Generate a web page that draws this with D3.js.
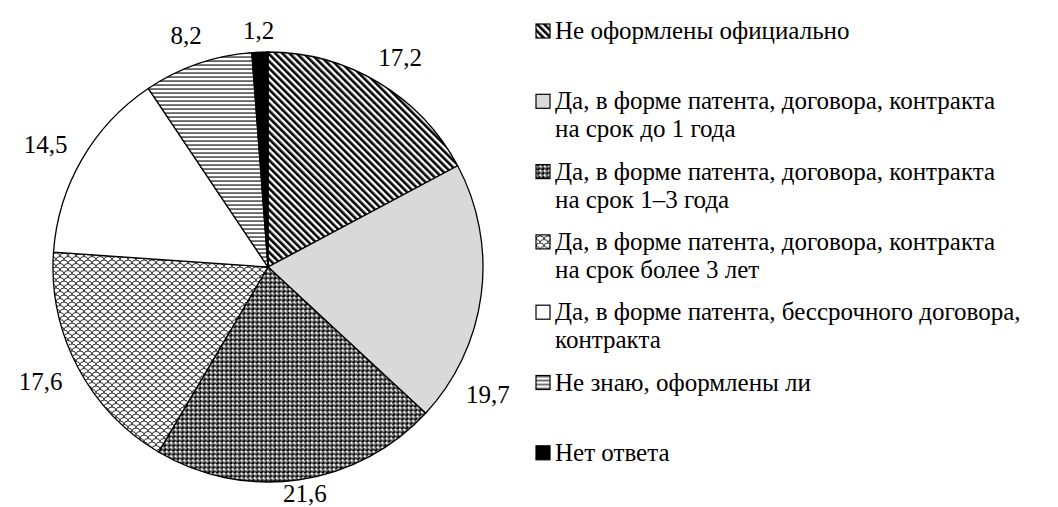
<!DOCTYPE html>
<html>
<head>
<meta charset="utf-8">
<script src="https://cdn.jsdelivr.net/npm/d3@7"></script>
<style>
  body { margin: 0; background: #fff; }
</style>
</head>
<body>
<svg id="chart"></svg>
<script>
const width = 1058
const height = 507

// data
const categories = [
  'Не оформлены официально',
  'Да, в форме патента, договора, контракта на срок до 1 года',
  'Да, в форме патента, договора, контракта на срок 1–3 года',
  'Да, в форме патента, договора, контракта на срок более 3 лет',
  'Да, в форме патента, бессрочного договора, контракта',
  'Не знаю, оформлены ли',
  'Нет ответа'
]
const values = [17.2, 19.7, 21.6, 17.6, 14.5, 8.2, 1.2]
// legend lines as in the picture
const legendLines = [
  ['Не оформлены официально'],
  ['Да, в форме патента, договора, контракта', 'на срок до 1 года'],
  ['Да, в форме патента, договора, контракта', 'на срок 1–3 года'],
  ['Да, в форме патента, договора, контракта', 'на срок более 3 лет'],
  ['Да, в форме патента, бессрочного договора,', 'контракта'],
  ['Не знаю, оформлены ли'],
  ['Нет ответа']
]
const fills = ['url(#p-diag)', '#d9d9d9', 'url(#p-dots)', 'url(#p-scale)', '#fff', 'url(#p-hor)', '#000']

const FONT = 'Liberation Serif, Tinos, DejaVu Serif, serif'
const cx = 268
const cy = 267
const radius = 215

const svg = d3.select('#chart').attr('width', width).attr('height', height)
  .style('font-family', FONT)
const defs = svg.append('defs')

// fit the font so the longest legend line is as wide as in the picture
const probe = svg.append('text').attr('font-size', 20)
  .text('Да, в форме патента, бессрочного договора,')
const fontSize = Math.min(25, 20 * 472 / probe.node().getComputedTextLength())
probe.remove()

// patterns
const diag = defs.append('pattern').attr('id', 'p-diag')
  .attr('patternUnits', 'userSpaceOnUse').attr('width', 5).attr('height', 5)
  .attr('patternTransform', 'rotate(-45)')
diag.append('rect').attr('width', 5).attr('height', 5).attr('fill', '#fff')
diag.append('rect').attr('width', 2.6).attr('height', 5).attr('fill', '#000')

const dots = defs.append('pattern').attr('id', 'p-dots')
  .attr('patternUnits', 'userSpaceOnUse').attr('width', 4.4).attr('height', 4.4)
dots.append('rect').attr('width', 4.4).attr('height', 4.4).attr('fill', '#fff')
dots.append('circle').attr('cx', 2.2).attr('cy', 2.2).attr('r', 2).attr('fill', '#000')
dots.append('circle').attr('cx', 1.6).attr('cy', 1.5).attr('r', 0.6).attr('fill', '#fff')

const scale = defs.append('pattern').attr('id', 'p-scale')
  .attr('patternUnits', 'userSpaceOnUse').attr('width', 8).attr('height', 7)
scale.append('rect').attr('width', 8).attr('height', 7).attr('fill', '#fff')
scale.append('path')
  .attr('d', 'M0,3.5 A4,3.5 0 0 1 8,3.5 M-4,7 A4,3.5 0 0 1 4,7 M4,7 A4,3.5 0 0 1 12,7 M-4,0 A4,3.5 0 0 1 4,0 M4,0 A4,3.5 0 0 1 12,0')
  .attr('fill', 'none').attr('stroke', '#000').attr('stroke-width', 0.8)

const hor = defs.append('pattern').attr('id', 'p-hor')
  .attr('patternUnits', 'userSpaceOnUse').attr('width', 4).attr('height', 4)
hor.append('rect').attr('width', 4).attr('height', 4).attr('fill', '#fff')
hor.append('rect').attr('y', 1.5).attr('width', 4).attr('height', 1.1).attr('fill', '#000')

// pie
const pie = d3.pie().sort(null).value(d => d)
const arcs = pie(values)
const arc = d3.arc().innerRadius(0).outerRadius(radius)

const g = svg.append('g').attr('transform', `translate(${cx},${cy})`)

g.selectAll('path.slice')
  .data(arcs)
  .enter()
  .append('path')
  .attr('class', 'slice')
  .attr('d', arc)
  .attr('fill', (d, i) => fills[i])
  .attr('stroke', '#000')
  .attr('stroke-width', 1.3)
  .attr('stroke-linejoin', 'round')

// labels, outside end; pushed along the slice if they hit the legend
const fmt = d3.formatLocale({ decimal: ',', thousands: ' ', grouping: [3], currency: ['', ''] }).format('.1f')
const labelR = radius + 20
const maxRight = 510 - cx
const labels = g.append('g').attr('font-size', fontSize).attr('fill', '#000')

arcs.forEach((d, i) => {
  const text = labels.append('text').attr('text-anchor', 'middle').attr('dy', '0.35em').text(fmt(d.data))
  const w = text.node().getComputedTextLength()
  const h = fontSize * 0.8
  let a = (d.startAngle + d.endAngle) / 2
  const pos = (ang) => [
    labelR * Math.sin(ang) + Math.sin(ang) * w / 2,
    -labelR * Math.cos(ang) - Math.cos(ang) * h / 2
  ]
  let [x, y] = pos(a)
  while (x + w / 2 > maxRight && a < d.endAngle) {
    a += 0.005
    ;[x, y] = pos(a)
  }
  y = Math.max(30 - cy, Math.min(height - fontSize * 0.56 - cy, y))
  text.attr('x', x).attr('y', y)
})

// legend
const legX = 536
const legY0 = 39
const legStep = 70.3
const lineH = 28
const sw = 14

const legend = svg.append('g').attr('font-size', fontSize)
legendLines.forEach((lines, i) => {
  const item = legend.append('g').attr('transform', `translate(${legX},${legY0 + i * legStep})`)
  item.append('rect')
    .attr('x', 0).attr('y', -15).attr('width', sw).attr('height', sw)
    .attr('fill', fills[i]).attr('stroke', '#000').attr('stroke-width', 1.2)
  item.selectAll('text')
    .data(lines)
    .enter()
    .append('text')
    .attr('x', 19)
    .attr('y', (l, j) => j * lineH)
    .text(l => l)
})
</script>
</body>
</html>
